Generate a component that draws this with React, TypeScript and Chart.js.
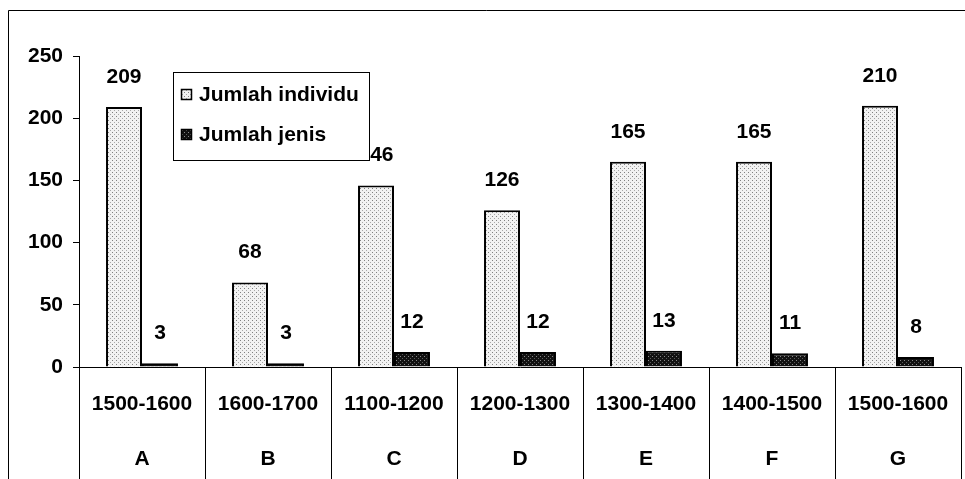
import React, { useEffect, useRef } from "react";
import { Chart, registerables } from "chart.js";

Chart.register(...registerables);

const periods = ["1500-1600", "1600-1700", "1100-1200", "1200-1300", "1300-1400", "1400-1500", "1500-1600"];
const sites = ["A", "B", "C", "D", "E", "F", "G"];
const individu = [209, 68, 146, 126, 165, 165, 210];
const jenis = [3, 3, 12, 12, 13, 11, 8];
const seriesNames = ["Jumlah individu", "Jumlah jenis"];
const yTicks = [0, 50, 100, 150, 200, 250];

const FONT = "'Liberation Sans', Arial, sans-serif";

function makePattern(bg: string, d1: string, d2: string): CanvasPattern | string {
  const c = document.createElement("canvas");
  c.width = 4;
  c.height = 4;
  const g = c.getContext("2d");
  if (!g) return bg;
  g.fillStyle = bg;
  g.fillRect(0, 0, 4, 4);
  g.fillStyle = d1;
  g.fillRect(0, 0, 1, 1);
  g.fillStyle = d2;
  g.fillRect(2, 2, 1, 1);
  const ctx = document.createElement("canvas").getContext("2d");
  const p = ctx ? ctx.createPattern(c, "repeat") : null;
  return p || bg;
}

export default function App() {
  const ref = useRef<HTMLCanvasElement | null>(null);

  useEffect(() => {
    const canvas = ref.current;
    if (!canvas) return;
    const patA = makePattern("#f2f2f2", "#808080", "#a8a8a8");
    const patB = makePattern("#121212", "#8a8a8a", "#5a5a5a");
    const patterns = [patA, patB];

    const valueLabels = {
      id: "valueLabels",
      afterDatasetsDraw(chart: any) {
        const ctx = chart.ctx;
        ctx.save();
        ctx.fillStyle = "#000";
        ctx.font = `bold 21px ${FONT}`;
        ctx.textAlign = "center";
        ctx.textBaseline = "middle";
        chart.data.datasets.forEach((ds: any, di: number) => {
          const meta = chart.getDatasetMeta(di);
          meta.data.forEach((bar: any, i: number) => {
            ctx.fillText(String(ds.data[i]), bar.x, bar.y - 30);
          });
        });
        ctx.restore();
      },
    };

    const frameLegend = {
      id: "frameLegend",
      afterDraw(chart: any) {
        const ctx = chart.ctx;
        ctx.save();
        ctx.strokeStyle = "#000";
        ctx.lineWidth = 1;
        ctx.beginPath();
        ctx.moveTo(8.5, 479);
        ctx.lineTo(8.5, 10.5);
        ctx.lineTo(965, 10.5);
        ctx.stroke();
        const lx = 173, ly = 72, lw = 196, lh = 88;
        ctx.fillStyle = "#fff";
        ctx.fillRect(lx, ly, lw, lh);
        ctx.strokeRect(lx + 0.5, ly + 0.5, lw, lh);
        ctx.font = `bold 21px ${FONT}`;
        ctx.textAlign = "left";
        ctx.textBaseline = "middle";
        const rows = [94, 134];
        seriesNames.forEach((name, i) => {
          const cy = rows[i];
          ctx.fillStyle = patterns[i] as any;
          ctx.fillRect(181, cy - 5, 11, 11);
          ctx.strokeStyle = "#000";
          ctx.lineWidth = 1.5;
          ctx.strokeRect(181.5, cy - 4.5, 10, 10);
          ctx.fillStyle = "#000";
          ctx.fillText(name, 199, cy + 1);
        });
        ctx.restore();
      },
    };

    const chart = new Chart(canvas, {
      type: "bar",
      data: {
        labels: periods.map((p, i) => [p, sites[i]]),
        datasets: [
          {
            label: seriesNames[0],
            data: individu,
            backgroundColor: patA as any,
            borderColor: "#000",
            borderWidth: 2,
            categoryPercentage: 0.571,
            barPercentage: 1.0,
          },
          {
            label: seriesNames[1],
            data: jenis,
            backgroundColor: patB as any,
            borderColor: "#000",
            borderWidth: 2,
            categoryPercentage: 0.571,
            barPercentage: 1.0,
          },
        ],
      },
      options: {
        responsive: false,
        animation: false,
        layout: { padding: { top: 56, right: 4, left: 0, bottom: 0 } },
        plugins: {
          legend: { display: false },
          tooltip: { enabled: false },
        },
        scales: {
          x: {
            offset: true,
            grid: {
              display: true,
              offset: true,
              drawOnChartArea: false,
              drawTicks: true,
              tickLength: 112,
              color: "#000",
              lineWidth: 1,
            },
            border: { display: true, color: "#000", width: 1 },
            ticks: {
              color: "#000",
              font: { family: FONT, size: 21, weight: "bold", lineHeight: 2.62 },
              padding: -102,
              maxRotation: 0,
              autoSkip: false,
            },
            afterFit(scale: any) {
              scale.height = 112;
            },
          },
          y: {
            min: 0,
            max: 250,
            afterBuildTicks(scale: any) {
              scale.ticks = yTicks.map((v) => ({ value: v }));
            },
            grid: {
              display: true,
              drawOnChartArea: false,
              drawTicks: true,
              tickLength: 6,
              color: "#000",
            },
            border: { display: true, color: "#000", width: 1 },
            ticks: {
              color: "#000",
              font: { family: FONT, size: 21, weight: "bold" },
              padding: 10,
            },
            afterFit(scale: any) {
              scale.width = 79;
            },
          },
        },
      },
      plugins: [valueLabels, frameLegend],
    });
    return () => chart.destroy();
  }, []);

  return (
    <div style={{ position: "fixed", left: 0, top: 0, width: 965, height: 479, background: "#fff" }}>
      <canvas ref={ref} width={965} height={479} style={{ display: "block" }} />
    </div>
  );
}
